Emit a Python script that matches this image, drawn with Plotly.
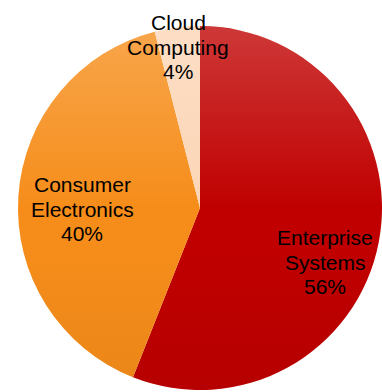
import base64
import plotly.graph_objects as go

# Revenue share by business segment
segments = ["Enterprise Systems", "Consumer Electronics", "Cloud Computing"]
shares = [56, 40, 4]
label_lines = [["Enterprise", "Systems"], ["Consumer", "Electronics"], ["Cloud", "Computing"]]
slice_colors = ["#C00000", "#F68D1A", "#FCD5B5"]

W, H = 382, 392
FONT = "Liberation Sans, Arial, sans-serif"

# pie placement (pixels)
pie_left, pie_right = 18, 382
pie_top, pie_bottom = 26, 390

fig = go.Figure(
    go.Pie(
        labels=segments,
        values=shares,
        sort=False,
        direction="clockwise",
        rotation=0,
        marker=dict(colors=slice_colors, line=dict(width=0)),
        textinfo="none",
        hoverinfo="label+percent",
        showlegend=False,
        domain=dict(
            x=[pie_left / W, pie_right / W],
            y=[1 - pie_bottom / H, 1 - pie_top / H],
        ),
    )
)

# soft vertical shading over the pie disc
shade_svg = (
    '<svg xmlns="http://www.w3.org/2000/svg" viewBox="0 0 100 100">'
    '<defs><linearGradient id="g" x1="0" y1="0" x2="0" y2="1">'
    '<stop offset="0" stop-color="#ffffff" stop-opacity="0.22"/>'
    '<stop offset="0.5" stop-color="#ffffff" stop-opacity="0"/>'
    '<stop offset="0.6" stop-color="#000000" stop-opacity="0"/>'
    '<stop offset="1" stop-color="#000000" stop-opacity="0.05"/>'
    '</linearGradient></defs>'
    '<circle cx="50" cy="50" r="50" fill="url(#g)"/></svg>'
)
side = min(pie_right - pie_left, pie_bottom - pie_top)
cx = (pie_left + pie_right) / 2
cy = (pie_top + pie_bottom) / 2
fig.add_layout_image(
    source="data:image/svg+xml;base64," + base64.b64encode(shade_svg.encode()).decode(),
    xref="paper", yref="paper",
    x=(cx - side / 2) / W, y=1 - (cy - side / 2) / H,
    sizex=side / W, sizey=side / H,
    xanchor="left", yanchor="top",
    sizing="stretch", layer="above",
)

# slice labels: name lines followed by the share
label_anchor = [(325, 245), (82, 192), (178, 30)]
line_step = 24
for lines, share, (lx, ly) in zip(label_lines, shares, label_anchor):
    for i, txt in enumerate(lines + [f"{share}%"]):
        fig.add_annotation(
            x=lx / W, y=1 - (ly + i * line_step - 7) / H,
            xref="paper", yref="paper",
            text=txt, showarrow=False,
            xanchor="center", yanchor="middle",
            font=dict(family=FONT, size=21, color="#000000"),
        )

fig.update_layout(
    width=W, height=H,
    margin=dict(l=0, r=0, t=0, b=0),
    paper_bgcolor="#ffffff",
    plot_bgcolor="#ffffff",
)

fig.write_html("out.html")
